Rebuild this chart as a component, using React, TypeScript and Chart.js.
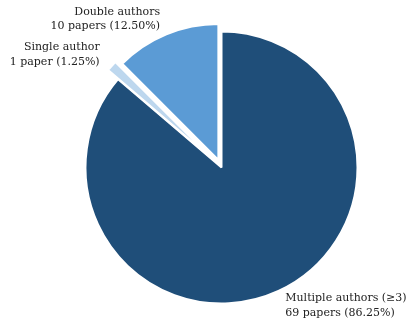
import React, { useEffect, useRef } from "react";
import { Chart, registerables } from "chart.js";

Chart.register(...registerables);

const categories = ["Multiple authors (\u22653)", "Single author", "Double authors"];
const papers = [69, 1, 10];
const explode = [0, 0.1, 0.06];
const colors = ["#1F4E79", "#BDD7EE", "#5B9BD5"];

const LABEL_DISTANCE = 1.12;
const FONT = "11px 'DejaVu Serif'";
const LINE_H = 14.5;

const explodePlugin = {
  id: "explodeSlices",
  afterDatasetsUpdate(chart: any) {
    const meta = chart.getDatasetMeta(0);
    meta.data.forEach((arc: any, i: number) => {
      const mid = (arc.startAngle + arc.endAngle) / 2;
      const d = (explode[i] || 0) * arc.outerRadius;
      arc.x += Math.cos(mid) * d;
      arc.y += Math.sin(mid) * d;
    });
  },
};

const labelPlugin = {
  id: "pieLabels",
  afterDatasetsDraw(chart: any) {
    const ctx = chart.ctx;
    const meta = chart.getDatasetMeta(0);
    const total = papers.reduce((a, b) => a + b, 0);
    ctx.save();
    ctx.font = FONT;
    ctx.fillStyle = "#222222";
    ctx.textBaseline = "middle";
    meta.data.forEach((arc: any, i: number) => {
      const mid = (arc.startAngle + arc.endAngle) / 2;
      const r = arc.outerRadius * LABEL_DISTANCE;
      const x = arc.x + Math.cos(mid) * r;
      const y = arc.y + Math.sin(mid) * r;
      ctx.textAlign = Math.cos(mid) < 0 ? "right" : "left";
      const n = papers[i];
      const pct = ((n / total) * 100).toFixed(2);
      const lines = [categories[i], `${n} paper${n === 1 ? "" : "s"} (${pct}%)`];
      lines.forEach((t, k) => {
        ctx.fillText(t, x, y + (k - (lines.length - 1) / 2) * LINE_H);
      });
    });
    ctx.restore();
  },
};

export default function App() {
  const ref = useRef<HTMLCanvasElement>(null);
  useEffect(() => {
    if (!ref.current) return;
    const chart = new Chart(ref.current, {
      type: "pie",
      data: {
        labels: categories,
        datasets: [
          {
            data: papers,
            backgroundColor: colors,
            borderColor: "#ffffff",
            borderWidth: 2,
            clip: false as any,
          },
        ],
      },
      options: {
        responsive: false,
        animation: false,
        events: [],
        radius: 136,
        layout: { padding: { left: 37, top: 15, right: 0, bottom: 0 } },
        plugins: {
          legend: { display: false },
          tooltip: { enabled: false },
        },
      } as any,
      plugins: [explodePlugin, labelPlugin],
    });
    return () => chart.destroy();
  }, []);
  return (
    <div style={{ position: "fixed", left: 0, top: 0, width: 406, height: 320, background: "#fff" }}>
      <canvas ref={ref} width={406} height={320} style={{ display: "block" }} />
    </div>
  );
}
